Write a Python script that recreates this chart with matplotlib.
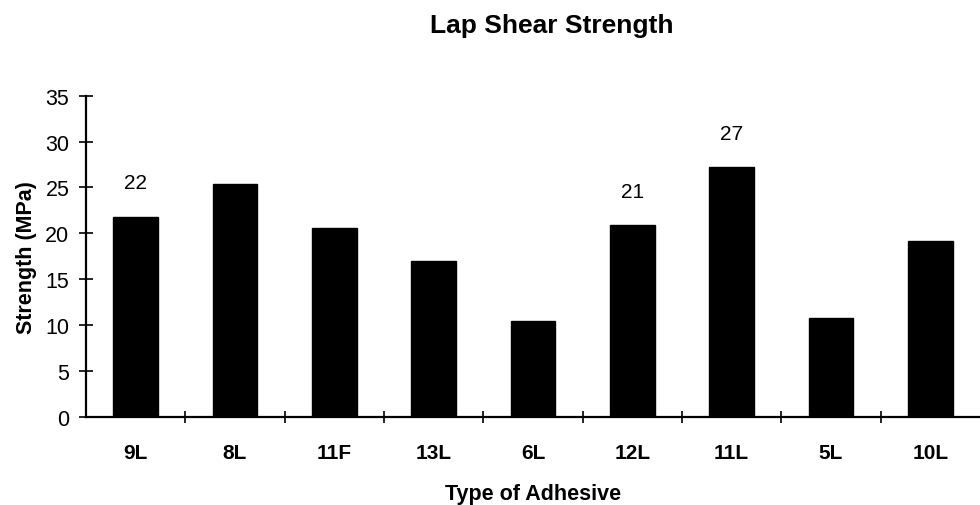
import matplotlib
matplotlib.use("Agg")
import matplotlib.pyplot as plt
import numpy as np

adhesives = ["9L", "8L", "11F", "13L", "6L", "12L", "11L", "5L", "10L"]
strength = [21.8, 25.4, 20.6, 17.0, 10.4, 20.9, 27.2, 10.8, 19.2]
labelled = ["9L", "12L", "11L"]
y_ticks = [0, 5, 10, 15, 20, 25, 30, 35]

plt.rcParams["font.family"] = ["Liberation Sans", "DejaVu Sans"]

fig = plt.figure(figsize=(9.8, 5.06), dpi=100)
ax = fig.add_axes([0.0878, 0.174, 0.9122, 0.635])

x = np.arange(len(adhesives))
ax.bar(x, strength, width=0.45, color="black", edgecolor="black", zorder=2)

for xi, name, val in zip(x, adhesives, strength):
    if name in labelled:
        ax.annotate(f"{val:.0f}", (xi, val), xytext=(0, 34), textcoords="offset pixels",
                    ha="center", va="center", fontsize=15)

ax.set_xlim(-0.5, len(adhesives) - 0.5)
ax.set_ylim(0, 35)
ax.set_yticks(y_ticks)
ax.set_xticks(x)
ax.set_xticklabels(adhesives, fontsize=15, fontweight="bold")
ax.set_xticks(np.arange(0.5, len(adhesives) - 1, 1.0), minor=True)
ax.tick_params(axis="x", which="major", length=0, pad=19)
ax.tick_params(axis="x", which="minor", direction="inout", length=9, width=1.2)
ax.tick_params(axis="y", direction="inout", length=10, width=1.2, labelsize=15.5, pad=7)

for side in ("top", "right"):
    ax.spines[side].set_visible(False)
for side in ("left", "bottom"):
    ax.spines[side].set_linewidth(1.6)

ax.set_ylabel("Strength (MPa)", fontsize=15.5, fontweight="bold", labelpad=6)
ax.set_xlabel("Type of Adhesive", fontsize=15.5, fontweight="bold", labelpad=15)
fig.text(552 / 980, 1 - 33 / 506, "Lap Shear Strength", ha="center", va="baseline",
         fontsize=19, fontweight="bold")

fig.savefig("out.png", dpi=100)
